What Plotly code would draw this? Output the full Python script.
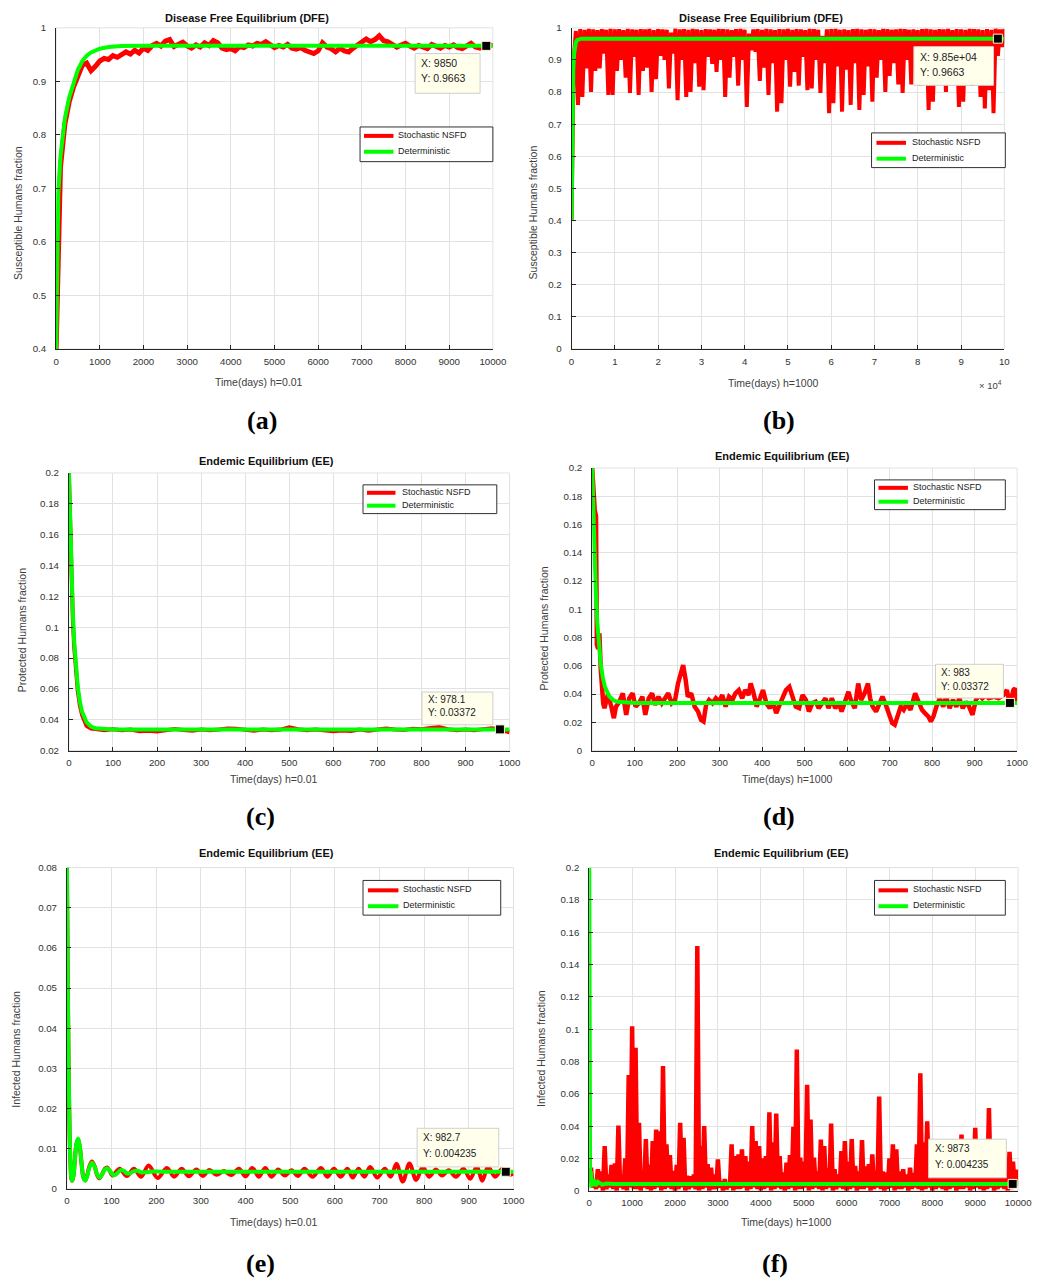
import plotly.graph_objects as go

W, H = 1039, 1282
FONT = "Liberation Sans, Arial, Helvetica, sans-serif"
SERIF = "Liberation Serif, Times New Roman, serif"
RED = "rgb(255,0,0)"
GREEN = "rgb(0,255,0)"
GRID = "#e2e2e2"
AXIS = "#262626"

# ---------------------------------------------------------------- (a) susceptible, DFE, h=0.01
a_det_t = [0, 10, 25, 50, 100, 150, 200, 300, 400, 500, 600, 700, 800, 900, 1000, 1200, 1500, 2000, 10000]
a_det_y = [0.4, 0.5, 0.6, 0.69, 0.76, 0.80, 0.83, 0.87, 0.895, 0.922, 0.938, 0.948, 0.954, 0.958, 0.961,
           0.964, 0.9658, 0.9663, 0.9663]
a_sto_t = list(range(0, 10001, 100))
a_sto_y = [0.400, 0.740, 0.820, 0.862, 0.890, 0.912, 0.930, 0.934, 0.920, 0.928,
           0.938, 0.943, 0.941, 0.948, 0.945, 0.950, 0.955, 0.951, 0.958, 0.953,
           0.962, 0.958, 0.967, 0.971, 0.966, 0.975, 0.978, 0.965, 0.970, 0.973,
           0.966, 0.962, 0.968, 0.964, 0.972, 0.967, 0.976, 0.972, 0.962, 0.959,
           0.961, 0.957, 0.965, 0.963, 0.968, 0.966, 0.971, 0.969, 0.974, 0.968,
           0.963, 0.967, 0.964, 0.969, 0.962, 0.960, 0.963, 0.958, 0.956, 0.952,
           0.957, 0.972, 0.964, 0.961, 0.955, 0.962, 0.957, 0.955, 0.962, 0.968,
           0.972, 0.979, 0.974, 0.978, 0.985, 0.976, 0.974, 0.969, 0.964, 0.968,
           0.971, 0.966, 0.962, 0.967, 0.964, 0.961, 0.969, 0.965, 0.962, 0.967,
           0.964, 0.968, 0.963, 0.961, 0.966, 0.971, 0.964, 0.962, 0.967, 0.969,
           0.966]
a_tip = (9850, 0.9663)

# ---------------------------------------------------------------- (b) susceptible, DFE, h=1000
b_det_t = [0, 100, 200, 300, 400, 600, 800, 1000, 1300, 1700, 2200, 100000]
b_det_y = [0.4, 0.55, 0.7, 0.8, 0.87, 0.92, 0.945, 0.955, 0.962, 0.965, 0.9663, 0.9663]
b_sto_t = list(range(0, 100001, 500))
# upper turning points (t = 0, 1000, ..., 100000)
b_sto_hi = [0.400, 0.990, 0.996, 0.994, 0.997, 0.995, 0.993, 0.996, 0.994, 0.997,
            0.995, 0.996, 0.993, 0.997, 0.995, 0.994, 0.996, 0.995, 0.997, 0.993,
            0.996, 0.995, 0.994, 0.985, 0.997, 0.995, 0.996, 0.994, 0.997, 0.995,
            0.993, 0.996, 0.995, 0.994, 0.997, 0.996, 0.995, 0.993, 0.996, 0.997,
            0.994, 0.982, 0.995, 0.996, 0.994, 0.997, 0.995, 0.993, 0.996, 0.995,
            0.997, 0.994, 0.996, 0.995, 0.993, 0.997, 0.996, 0.994, 0.975, 0.995,
            0.996, 0.997, 0.994, 0.995, 0.993, 0.996, 0.997, 0.995, 0.994, 0.996,
            0.995, 0.993, 0.997, 0.996, 0.994, 0.995, 0.997, 0.996, 0.994, 0.995,
            0.993, 0.996, 0.997, 0.995, 0.994, 0.996, 0.995, 0.997, 0.993, 0.996,
            0.995, 0.994, 0.997, 0.996, 0.995, 0.993, 0.996, 0.994, 0.997, 0.995,
            0.996]
# lower turning points (t = 500, 1500, ..., 99500)
b_sto_lo = [0.900, 0.760, 0.785, 0.874, 0.800, 0.866, 0.874, 0.920, 0.791, 0.791,
            0.866, 0.900, 0.845, 0.797, 0.910, 0.791, 0.866, 0.876, 0.800, 0.840,
            0.913, 0.900, 0.811, 0.920, 0.775, 0.900, 0.785, 0.800, 0.890, 0.817,
            0.806, 0.910, 0.888, 0.863, 0.900, 0.785, 0.845, 0.910, 0.820, 0.900,
            0.754, 0.930, 0.925, 0.835, 0.876, 0.791, 0.890, 0.739, 0.765, 0.900,
            0.817, 0.863, 0.820, 0.910, 0.806, 0.811, 0.900, 0.797, 0.890, 0.734,
            0.765, 0.880, 0.739, 0.870, 0.760, 0.890, 0.744, 0.791, 0.880, 0.770,
            0.845, 0.900, 0.800, 0.850, 0.890, 0.824, 0.797, 0.900, 0.824, 0.890,
            0.820, 0.880, 0.744, 0.770, 0.860, 0.880, 0.800, 0.870, 0.835, 0.754,
            0.770, 0.870, 0.820, 0.880, 0.785, 0.749, 0.806, 0.734, 0.913, 0.940]
b_sto_y = [v for pair in zip(b_sto_hi, b_sto_lo) for v in pair] + [b_sto_hi[-1]]
b_tip = (98500, 0.9663)
b_xtick_vals = list(range(0, 100001, 10000))
b_xtick_text = ["0", "1", "2", "3", "4", "5", "6", "7", "8", "9", "10"]

# ---------------------------------------------------------------- (c) protected, EE, h=0.01
c_det_t = [0, 3, 6, 9, 12, 15, 20, 25, 30, 40, 50, 60, 80, 100, 1000]
c_det_y = [0.2, 0.1609, 0.131, 0.1081, 0.0907, 0.0773, 0.0616, 0.0516, 0.0451, 0.0384, 0.0356, 0.0345,
           0.0338, 0.03372, 0.03372]
c_sto_t = [0, 3, 6, 9, 12, 15, 20, 25, 30, 40, 50] + list(range(60, 1001, 20))
c_sto_y = [0.2, 0.158, 0.127, 0.104, 0.087, 0.074, 0.059, 0.049, 0.043, 0.036, 0.0342,
           0.0340, 0.0332, 0.0338, 0.0331, 0.0337, 0.0325, 0.0328, 0.0324, 0.0331, 0.0339,
           0.0333, 0.0329, 0.0337, 0.0331, 0.0336, 0.0343, 0.0341, 0.0338, 0.0329, 0.0336,
           0.0332, 0.0336, 0.0351, 0.0338, 0.0331, 0.0337, 0.0329, 0.0325, 0.0330, 0.0327,
           0.0336, 0.0329, 0.0337, 0.0343, 0.0336, 0.0334, 0.0341, 0.0338, 0.0346, 0.0352,
           0.0338, 0.0332, 0.0337, 0.0331, 0.0339, 0.0344, 0.0335, 0.0318]
c_tip = (978.1, 0.03372)

# ---------------------------------------------------------------- (d) protected, EE, h=1000
d_det_t = [0, 3, 6, 9, 12, 15, 20, 25, 30, 40, 50, 60, 80, 100, 1000]
d_det_y = [0.2, 0.1609, 0.131, 0.1081, 0.0907, 0.0773, 0.0616, 0.0516, 0.0451, 0.0384, 0.0356, 0.0345,
           0.0338, 0.03372, 0.03372]
d_sto_t = [0, 3, 6, 9, 11, 14, 17, 20, 23, 26, 29, 37, 45, 51, 56, 64, 72, 80, 87, 95,
           102, 110, 118, 125, 133, 141, 148, 156, 164, 172, 179, 187, 195, 202, 209, 214, 220, 225, 233, 241,
           249, 256, 262, 268, 275, 283, 291, 299, 306, 314, 322, 330, 337, 345, 353, 360, 368, 373, 379, 387,
           395, 402, 410, 418, 425, 433, 441, 448, 456, 464, 472, 479, 487, 495, 503, 510, 518, 526, 533, 541,
           549, 556, 564, 572, 580, 587, 595, 603, 610, 618, 626, 633, 641, 649, 654, 660, 668, 675, 683, 691,
           698, 706, 712, 718, 726, 733, 741, 749, 757, 760, 768, 776, 783, 791, 797, 803, 810, 818, 826, 833,
           841, 849, 857, 864, 872, 880, 887, 895, 903, 910, 918, 926, 933, 945, 956, 968, 976, 983, 991, 995,
           1000]
d_sto_y = [0.200, 0.183, 0.170, 0.166, 0.075, 0.072, 0.083, 0.058, 0.040, 0.033,
           0.030, 0.040, 0.031, 0.0229, 0.0311, 0.0346, 0.0405, 0.0253, 0.0370, 0.0405,
           0.0311, 0.0335, 0.0381, 0.0253, 0.0370, 0.0405, 0.0323, 0.0381, 0.0335, 0.0370,
           0.0405, 0.0335, 0.0358, 0.0475, 0.0545, 0.0604, 0.0498, 0.0381, 0.0405, 0.0311,
           0.0276, 0.0218, 0.0206, 0.0323, 0.0358, 0.0335, 0.0370, 0.0346, 0.0393, 0.0311,
           0.0381, 0.0358, 0.0405, 0.0428, 0.0370, 0.0428, 0.0393, 0.0475, 0.0416, 0.0311,
           0.0370, 0.0428, 0.0335, 0.0300, 0.0346, 0.0265, 0.0323, 0.0370, 0.0428, 0.0451,
           0.0370, 0.0311, 0.0300, 0.0393, 0.0358, 0.0276, 0.0335, 0.0346, 0.0300, 0.0335,
           0.0370, 0.0300, 0.0370, 0.0300, 0.0335, 0.0276, 0.0346, 0.0416, 0.0346, 0.0300,
           0.0475, 0.0358, 0.0405, 0.0475, 0.0370, 0.0311, 0.0276, 0.0335, 0.0381, 0.0323,
           0.0253, 0.0194, 0.0182, 0.0241, 0.0311, 0.0288, 0.0335, 0.0288, 0.0358, 0.0405,
           0.0346, 0.0288, 0.0265, 0.0241, 0.0206, 0.0241, 0.0311, 0.0370, 0.0311, 0.0381,
           0.0300, 0.0358, 0.0311, 0.0370, 0.0300, 0.0346, 0.0311, 0.0253, 0.0358, 0.0393,
           0.0370, 0.0393, 0.0370, 0.0381, 0.0370, 0.0393, 0.0428, 0.0323, 0.0428, 0.0440,
           0.0346]
d_tip = (983, 0.03372)

# ---------------------------------------------------------------- (e) infected, EE, h=0.01
e_det_t = [0, 2, 4, 6, 8, 10, 12, 15, 18, 21, 25, 29, 33, 37, 41, 45, 50, 56, 62, 68,
           73, 79, 85, 90, 96, 102, 107, 114, 121, 128, 135, 142, 150, 158, 166, 175, 190, 220, 1000]
e_det_y = [0.08, 0.05, 0.028, 0.014, 0.006, 0.0025, 0.002, 0.0035, 0.0075, 0.011,
           0.0125, 0.0105, 0.006, 0.0027, 0.002, 0.003, 0.0052, 0.0065, 0.0055, 0.0035,
           0.0028, 0.0036, 0.0048, 0.0051, 0.0045, 0.0036, 0.0034, 0.0040, 0.0047, 0.0044,
           0.0038, 0.0039, 0.0044, 0.0045, 0.0041, 0.0041, 0.0043, 0.00424, 0.004235]
e_sto_t = [0, 2, 4, 6, 8, 10, 12, 15, 18, 21, 25, 29, 33, 37, 41, 45, 50, 56, 62, 68, 73, 79, 85, 90, 96, 102,
           118, 134, 150, 166, 183, 203, 224, 240, 257, 273, 290, 304, 319, 335, 352, 368, 385, 400, 415, 430,
           444, 458, 473, 488, 503, 517, 532, 550, 569, 583, 598, 613, 628, 640, 653, 666, 679, 695, 712, 725,
           738, 752, 767, 782, 797, 811, 826, 840, 855, 871, 888, 903, 918, 930, 943, 959, 975, 990, 1000]
e_sto_y = [0.08, 0.05, 0.028, 0.014, 0.006, 0.0025, 0.002, 0.0035, 0.0075, 0.011, 0.0123, 0.0103, 0.006,
           0.0028, 0.0021, 0.0032, 0.0055, 0.0068, 0.0056, 0.0033, 0.0026, 0.0037, 0.0050, 0.0053, 0.0044, 0.0033,
           0.0050, 0.0032, 0.0050, 0.0030, 0.0058, 0.0027, 0.0052, 0.0030, 0.0050, 0.0031,
           0.0048, 0.0032, 0.0047, 0.0035, 0.0044, 0.0034, 0.0050, 0.0031, 0.0052, 0.0030,
           0.0052, 0.0030, 0.0048, 0.0033, 0.0046, 0.0032, 0.0050, 0.0030, 0.0052, 0.0030,
           0.0050, 0.0030, 0.0050, 0.0028, 0.0050, 0.0030, 0.0054, 0.0028, 0.0050, 0.0030,
           0.0062, 0.0018, 0.0063, 0.0022, 0.0054, 0.0030, 0.0048, 0.0033, 0.0046, 0.0030,
           0.0050, 0.0025, 0.0055, 0.0020, 0.0055, 0.0030, 0.0050, 0.0035, 0.0038]
e_tip = (982.7, 0.004235)

# ---------------------------------------------------------------- (f) infected, EE, h=1000
f_det_t = [0, 10, 20, 40, 60, 100, 150, 200, 300, 400, 600, 10000]
f_det_y = [0.2, 0.02, 0.002, 0.012, 0.003, 0.007, 0.003, 0.0055, 0.0038, 0.0045, 0.0042, 0.004235]
f_sto_t = list(range(0, 10001, 40))
# lower turning points (t = 0, 80, ..., 10000)
f_sto_lo = [0.005, 0.002, 0.001, 0.002, 0.000, 0.001, 0.002, 0.001, 0.000, 0.002,
            0.001, 0.000, 0.002, 0.001, 0.001, 0.000, 0.002, 0.001, 0.000, 0.001,
            0.002, 0.000, 0.001, 0.002, 0.001, 0.000, 0.001, 0.002, 0.000, 0.001,
            0.002, 0.001, 0.000, 0.001, 0.002, 0.000, 0.001, 0.001, 0.002, 0.000,
            0.001, 0.002, 0.000, 0.001, 0.001, 0.002, 0.000, 0.001, 0.002, 0.001,
            0.000, 0.001, 0.002, 0.000, 0.001, 0.002, 0.001, 0.000, 0.001, 0.002,
            0.000, 0.001, 0.001, 0.002, 0.000, 0.001, 0.002, 0.001, 0.000, 0.001,
            0.002, 0.000, 0.001, 0.002, 0.001, 0.000, 0.001, 0.002, 0.000, 0.001,
            0.001, 0.002, 0.000, 0.001, 0.002, 0.001, 0.000, 0.001, 0.002, 0.000,
            0.001, 0.001, 0.002, 0.000, 0.001, 0.002, 0.001, 0.000, 0.001, 0.002,
            0.000, 0.001, 0.002, 0.001, 0.000, 0.001, 0.002, 0.000, 0.001, 0.001,
            0.002, 0.000, 0.001, 0.002, 0.001, 0.000, 0.001, 0.002, 0.000, 0.001,
            0.002, 0.001, 0.000, 0.001, 0.002, 0.003]
# upper turning points (t = 40, 120, ..., 9960)
f_sto_hi = [0.0143, 0.006, 0.0133, 0.012, 0.0276, 0.010, 0.016, 0.017, 0.0403, 0.009,
            0.020, 0.0716, 0.1017, 0.0884, 0.042, 0.012, 0.032, 0.016, 0.0307, 0.0379,
            0.0368, 0.0772, 0.0287, 0.022, 0.0123, 0.016, 0.042, 0.0328, 0.0092, 0.009,
            0.010, 0.1515, 0.0276, 0.040, 0.0164, 0.0143, 0.010, 0.0194, 0.006, 0.0072,
            0.004, 0.0287, 0.0215, 0.0225, 0.0256, 0.0215, 0.018, 0.040, 0.0307, 0.0276,
            0.020, 0.0215, 0.0485, 0.030, 0.0477, 0.0215, 0.0113, 0.0174, 0.022, 0.0395,
            0.0874, 0.0205, 0.018, 0.0655, 0.044, 0.0205, 0.012, 0.0317, 0.0276, 0.014,
            0.0416, 0.0133, 0.010, 0.0246, 0.0307, 0.018, 0.032, 0.0154, 0.012, 0.0313,
            0.015, 0.0164, 0.0225, 0.012, 0.0583, 0.012, 0.0113, 0.020, 0.0287, 0.0256,
            0.012, 0.0133, 0.010, 0.0143, 0.011, 0.0287, 0.0727, 0.030, 0.043, 0.012,
            0.0215, 0.020, 0.012, 0.025, 0.015, 0.020, 0.018, 0.012, 0.0348, 0.015,
            0.022, 0.014, 0.0389, 0.012, 0.018, 0.020, 0.0512, 0.014, 0.010, 0.012,
            0.016, 0.012, 0.024, 0.018, 0.013]
f_sto_y = [v for pair in zip(f_sto_lo, f_sto_hi) for v in pair] + [f_sto_lo[-1]]
f_tip = (9873, 0.004235)

legend_names = ["Stochastic NSFD", "Deterministic"]

# Pixel layout of each panel: plotting box, text anchors, legend block and data-tip box.
panels = [
    dict(label="(a)", title="Disease Free Equilibrium (DFE)", xt="Time(days) h=0.01",
         yt="Susceptible Humans fraction", box=(54, 498, 22, 346),
         xr=[0, 10000], xd=1000, yr=[0.4, 1.0], yd=0.1,
         sto=(a_sto_t, a_sto_y), det=(a_det_t, a_det_y), tip=a_tip, shape="linear", wsto=5,
         title_xy=(248, 12), xt_xy=(260, 379), yt_xy=(15, 209), lab_xy=(263, 418),
         leg=(363, 498, 122, 157, 130, 146, 367, 397, 400),
         tipbox=(419, 485, 48, 88, 57, 73), tipfont=10.5),
    dict(label="(b)", title="Disease Free Equilibrium (DFE)", xt="Time(days) h=1000",
         yt="Susceptible Humans fraction", box=(578, 1018, 22, 346),
         xr=[0, 100000], xd=10000, yr=[0, 1.0], yd=0.1,
         sto=(b_sto_t, b_sto_y), det=(b_det_t, b_det_y), tip=b_tip, shape="linear", wsto=4,
         title_xy=(771, 12), xt_xy=(783, 380), yt_xy=(539, 208), lab_xy=(789, 418),
         leg=(883, 1019, 128, 163, 137, 153, 888, 918, 922),
         tipbox=(926, 1007, 41, 80, 51, 67), tipfont=10.5),
    dict(label="(c)", title="Endemic Equilibrium (EE)", xt="Time(days) h=0.01",
         yt="Protected Humans fraction", box=(67, 515, 471, 751),
         xr=[0, 1000], xd=100, yr=[0.02, 0.2], yd=0.02,
         sto=(c_sto_t, c_sto_y), det=(c_det_t, c_det_y), tip=c_tip, shape="linear", wsto=4,
         title_xy=(268, 459), xt_xy=(275, 780), yt_xy=(19, 630), lab_xy=(262, 818),
         leg=(366, 502, 483, 512, 490, 503, 370, 399, 404),
         tipbox=(426, 498, 692, 725, 700, 713), tipfont=10),
    dict(label="(d)", title="Endemic Equilibrium (EE)", xt="Time(days) h=1000",
         yt="Protected Humans fraction", box=(599, 1031, 466, 751),
         xr=[0, 1000], xd=100, yr=[0, 0.2], yd=0.02,
         sto=(d_sto_t, d_sto_y), det=(d_det_t, d_det_y), tip=d_tip, shape="linear", wsto=4.5,
         title_xy=(792, 454), xt_xy=(798, 780), yt_xy=(550, 628), lab_xy=(789, 818),
         leg=(886, 1019, 478, 508, 485, 499, 890, 920, 923),
         tipbox=(948, 1017, 664, 698, 672, 686), tipfont=10),
    dict(label="(e)", title="Endemic Equilibrium (EE)", xt="Time(days) h=0.01",
         yt="Infected Humans fraction", box=(65, 519, 869, 1193),
         xr=[0, 1000], xd=100, yr=[0, 0.08], yd=0.01,
         sto=(e_sto_t, e_sto_y), det=(e_det_t, e_det_y), tip=e_tip, shape="spline", wsto=4,
         title_xy=(268, 854), xt_xy=(275, 1227), yt_xy=(13, 1052), lab_xy=(262, 1268),
         leg=(366, 506, 882, 917, 891, 907, 371, 402, 405),
         tipbox=(421, 504, 1132, 1171, 1141, 1157), tipfont=10),
    dict(label="(f)", title="Endemic Equilibrium (EE)", xt="Time(days) h=1000",
         yt="Infected Humans fraction", box=(596, 1032, 869, 1195),
         xr=[0, 10000], xd=1000, yr=[0, 0.2], yd=0.02,
         sto=(f_sto_t, f_sto_y), det=(f_det_t, f_det_y), tip=f_tip, shape="linear", wsto=4.5,
         title_xy=(791, 854), xt_xy=(797, 1227), yt_xy=(547, 1052), lab_xy=(785, 1268),
         leg=(886, 1019, 882, 917, 891, 907, 890, 920, 923),
         tipbox=(941, 1020, 1143, 1182, 1152, 1169), tipfont=10),
]


def px_x(x):
    return x / W


def px_y(y):
    return 1 - y / H


def text_ann(x, y, text, size, color="#333333", family=FONT, xanchor="center", angle=0):
    return dict(xref="paper", yref="paper", x=px_x(x), y=px_y(y), showarrow=False, text=text,
                xanchor=xanchor, yanchor="middle", textangle=angle,
                font=dict(family=family, size=size, color=color))


fig = go.Figure()
layout = dict(width=W, height=H, margin=dict(l=0, r=0, t=0, b=0),
              paper_bgcolor="white", plot_bgcolor="white", showlegend=False,
              font=dict(family=FONT, color="#333333"))
annotations = []
shapes = []

for n, p in enumerate(panels, start=1):
    sfx = "" if n == 1 else str(n)
    xa, ya = "x" + sfx, "y" + sfx
    x0, x1, y0, y1 = p["box"]

    fig.add_trace(go.Scatter(x=p["sto"][0], y=p["sto"][1], mode="lines", name=legend_names[0],
                             line=dict(color=RED, width=p["wsto"], shape=p["shape"]),
                             xaxis=xa, yaxis=ya, hoverinfo="skip"))
    fig.add_trace(go.Scatter(x=p["det"][0], y=p["det"][1], mode="lines", name=legend_names[1],
                             line=dict(color=GREEN, width=4, shape=p["shape"]),
                             xaxis=xa, yaxis=ya, hoverinfo="skip"))
    fig.add_trace(go.Scatter(x=[p["tip"][0]], y=[p["tip"][1]], mode="markers", name="data tip",
                             marker=dict(symbol="square", size=9, color="black",
                                         line=dict(color="#fff6d0", width=1)),
                             xaxis=xa, yaxis=ya, cliponaxis=False, hoverinfo="skip"))

    axis_common = dict(showline=True, linecolor=AXIS, linewidth=1, mirror=False,
                       showgrid=True, gridcolor=GRID, gridwidth=1, zeroline=False,
                       ticks="inside", ticklen=4, tickwidth=1, tickcolor=AXIS,
                       tickfont=dict(family=FONT, size=9.7, color="#333333"), fixedrange=True)
    xaxis = dict(axis_common, domain=[px_x(x0), px_x(x1)], anchor=ya, range=p["xr"],
                 ticklabelstandoff=3)
    if n == 2:
        xaxis.update(tickmode="array", tickvals=b_xtick_vals, ticktext=b_xtick_text)
    else:
        xaxis.update(tickmode="linear", tick0=0, dtick=p["xd"], tickformat="d")
    yaxis = dict(axis_common, domain=[px_y(y1), px_y(y0)], anchor=xa, range=p["yr"],
                 tickmode="linear", tick0=0, dtick=p["yd"], ticklabelstandoff=7)
    layout["xaxis" + sfx] = xaxis
    layout["yaxis" + sfx] = yaxis

    # light frame around each plotting area
    shapes.append(dict(type="rect", xref=xa + " domain", yref=ya + " domain", x0=0, x1=1, y0=0, y1=1,
                       line=dict(color=GRID, width=1), layer="below"))

    # legend block
    lx0, lx1, ly0, ly1, r1, r2, sl0, sl1, tx0 = p["leg"]
    shapes.append(dict(type="rect", xref="paper", yref="paper", x0=px_x(lx0), x1=px_x(lx1),
                       y0=px_y(ly1), y1=px_y(ly0), fillcolor="white", line=dict(color="#303030", width=1),
                       layer="above"))
    for row, col, name in ((r1, RED, legend_names[0]), (r2, GREEN, legend_names[1])):
        shapes.append(dict(type="line", xref="paper", yref="paper", x0=px_x(sl0), x1=px_x(sl1),
                           y0=px_y(row + 1), y1=px_y(row + 1), line=dict(color=col, width=4), layer="above"))
        annotations.append(text_ann(tx0, row, name, 9, "#222222", xanchor="left"))

    # data tip box
    bx0, bx1, by0, by1, t1, t2 = p["tipbox"]
    shapes.append(dict(type="rect", xref="paper", yref="paper", x0=px_x(bx0), x1=px_x(bx1),
                       y0=px_y(by1), y1=px_y(by0), fillcolor="#ffffec", line=dict(color="#cfcfcf", width=1),
                       layer="above"))
    annotations.append(text_ann(bx0 + 4, t1, "X: " + format(p["tip"][0], ".4g"), p["tipfont"],
                                "#222222", xanchor="left"))
    annotations.append(text_ann(bx0 + 4, t2, "Y: " + format(p["tip"][1], ".4g"), p["tipfont"],
                                "#222222", xanchor="left"))

    annotations.append(text_ann(*p["title_xy"], "<b>%s</b>" % p["title"], 11, "#111111"))
    annotations.append(text_ann(*p["xt_xy"], p["xt"], 10.5, "#404040"))
    annotations.append(text_ann(*p["yt_xy"], p["yt"], 10.5, "#404040", angle=-90))
    annotations.append(text_ann(*p["lab_xy"], "<b>%s</b>" % p["label"], 26, "black", family=SERIF))

# exponent marker of the (b) time axis
annotations.append(text_ann(1018, 382, "\u00d7 10<sup>4</sup>", 9.5, "#404040", xanchor="right"))

layout["annotations"] = annotations
layout["shapes"] = shapes
fig.update_layout(**layout)
fig.write_html("out.html")
